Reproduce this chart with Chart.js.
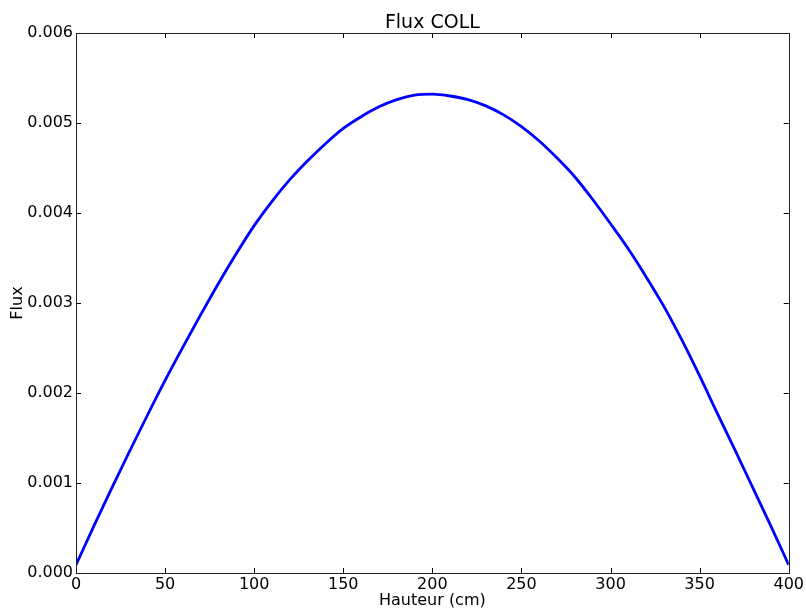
<!DOCTYPE html>
<html>
<head>
<meta charset="utf-8">
<script src="https://cdn.jsdelivr.net/npm/chart.js@4/dist/chart.umd.min.js"></script>
<style>
  html, body { margin: 0; padding: 0; background: #ffffff; }
  #wrap { width: 806px; height: 608px; position: relative; }
</style>
</head>
<body>
<div id="wrap"><canvas id="c" width="806" height="608"></canvas></div>
<script>
// Hauteur (cm)
const heights = [0, 10, 20, 30, 40, 50, 60, 70, 80, 90,
                 100, 110, 120, 130, 140, 150, 160, 170, 180, 190,
                 200, 210, 220, 230, 240, 250, 260, 270, 280, 290,
                 300, 310, 320, 330, 340, 350, 360, 370, 380, 390, 400];
// Flux
const flux = [0.00009, 0.00052, 0.00094, 0.00135, 0.00175, 0.00214, 0.00251, 0.00287, 0.00322, 0.00355,
              0.00386, 0.00413, 0.00437, 0.00458, 0.00477, 0.00494, 0.00507, 0.00518, 0.00526, 0.00531,
              0.00532, 0.00530, 0.00526, 0.00519, 0.00509, 0.00496, 0.00480, 0.00461, 0.00440, 0.00415,
              0.00388, 0.00360, 0.00329, 0.00296, 0.00259, 0.00219, 0.00177, 0.00136, 0.00094, 0.00052, 0.00009];
const xTicks = [0, 50, 100, 150, 200, 250, 300, 350, 400];
const yTicks = [0, 0.001, 0.002, 0.003, 0.004, 0.005, 0.006];
const chartTitle = 'Flux COLL';
const xTitle = 'Hauteur (cm)';
const yTitle = 'Flux';

const points = heights.map((h, i) => ({ x: h, y: flux[i] }));

const frameTicks = {
  id: 'frameTicks',
  afterDraw(chart) {
    const { ctx, chartArea: a, scales } = chart;
    const L = 5;
    ctx.save();
    ctx.strokeStyle = '#000';
    ctx.lineWidth = 1;
    ctx.beginPath();
    xTicks.forEach(v => {
      const px = Math.round(scales.x.getPixelForValue(v)) + 0.5;
      ctx.moveTo(px, a.bottom); ctx.lineTo(px, a.bottom - L);
      ctx.moveTo(px, a.top); ctx.lineTo(px, a.top + L);
    });
    yTicks.forEach(v => {
      const py = Math.round(scales.y.getPixelForValue(v)) + 0.5;
      ctx.moveTo(a.left, py); ctx.lineTo(a.left + L, py);
      ctx.moveTo(a.right, py); ctx.lineTo(a.right - L, py);
    });
    ctx.stroke();
    ctx.strokeStyle = '#222';
    ctx.strokeRect(Math.round(a.left) + 0.5, Math.round(a.top) + 0.5,
                   Math.round(a.right - a.left), Math.round(a.bottom - a.top));
    // title centred over the plot area
    ctx.fillStyle = '#000';
    ctx.font = "19px 'DejaVu Sans', sans-serif";
    ctx.textAlign = 'center';
    ctx.textBaseline = 'middle';
    ctx.fillText(chartTitle, (a.left + a.right) / 2, 23);
    ctx.restore();
  }
};

Chart.defaults.font.family = "'DejaVu Sans', sans-serif";
Chart.defaults.color = '#000';

new Chart(document.getElementById('c'), {
  type: 'line',
  data: {
    datasets: [{
      data: points,
      borderColor: '#0000ff',
      borderWidth: 2.8,
      pointRadius: 0,
      fill: false,
      cubicInterpolationMode: 'monotone'
    }]
  },
  options: {
    responsive: false,
    animation: false,
    layout: { padding: { top: 33, right: 16, left: 0, bottom: 0 } },
    plugins: {
      legend: { display: false },
      tooltip: { enabled: false },
      title: { display: false }
    },
    scales: {
      x: {
        type: 'linear',
        min: 0, max: 400,
        afterBuildTicks(s) { s.ticks = xTicks.map(v => ({ value: v })); },
        afterFit(s) { s.height = 35; },
        grid: { display: false, drawTicks: false },
        border: { display: false },
        ticks: { font: { size: 16 }, padding: 2, maxRotation: 0, autoSkip: false,
                 callback: v => String(v) },
        title: { display: true, text: xTitle, font: { size: 16 }, padding: { top: 0, bottom: -2 } }
      },
      y: {
        type: 'linear',
        min: 0, max: 0.006,
        afterBuildTicks(s) { s.ticks = yTicks.map(v => ({ value: v })); },
        afterFit(s) { s.width = 76; },
        grid: { display: false, drawTicks: false },
        border: { display: false },
        ticks: { font: { size: 16 }, padding: 3, autoSkip: false,
                 callback: v => Number(v).toFixed(3) },
        title: { display: true, text: yTitle, font: { size: 16 }, padding: { top: 8, bottom: 0 } }
      }
    }
  },
  plugins: [frameTicks]
});
</script>
</body>
</html>
